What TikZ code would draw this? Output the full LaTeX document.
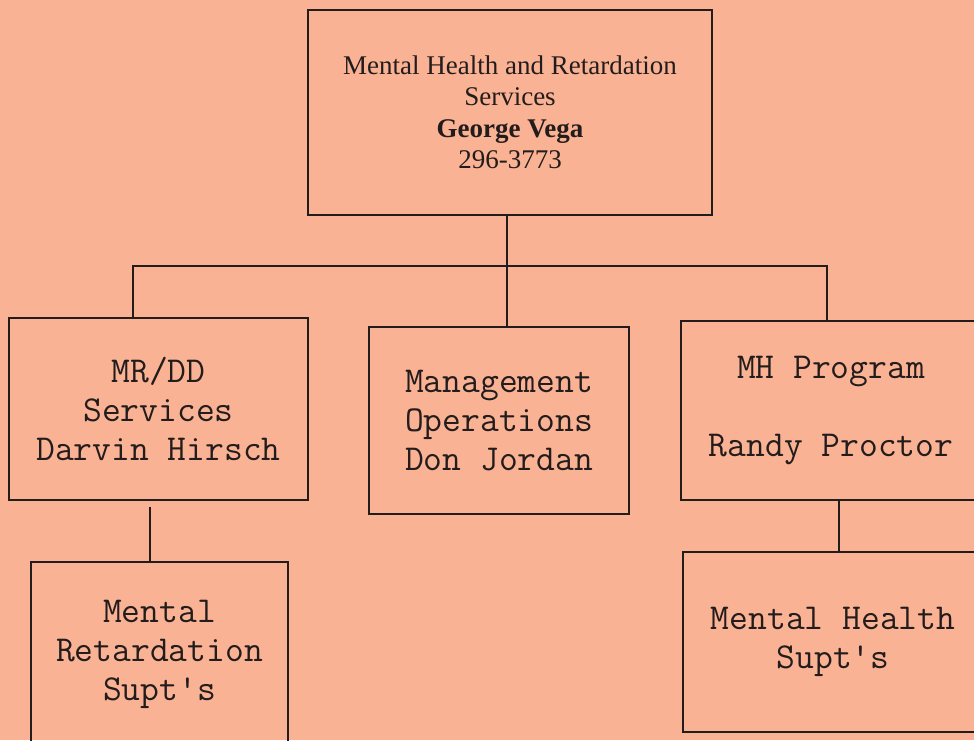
\documentclass[tikz,border=0pt]{standalone}
\usepackage{fontspec}
\setmainfont{Liberation Serif}
\definecolor{salmonpaper}{RGB}{250,178,148}
\definecolor{inkline}{RGB}{35,28,28}

\begin{document}
\begin{tikzpicture}[x=1pt,y=-1pt,
    unitbox/.style={draw=inkline, line width=2.8pt, text=inkline, align=center, inner sep=0pt},
    headbox/.style={unitbox, font=\fontsize{27}{31.5}\selectfont},
    monobox/.style={unitbox, font=\ttfamily\fontsize{36.5}{39}\selectfont},
    link/.style={draw=inkline, line width=2.6pt}]
    \fill[salmonpaper] (0,0) rectangle (974,740);
    \useasboundingbox (0,0) rectangle (974,740);
    \clip (0,0) rectangle (974,740);

    % top of the chart
    \node[headbox, minimum width=404pt, minimum height=205pt] (mhrs) at (510,112.5)
        {Mental Health and Retardation\\Services\\\textbf{George Vega}\\296-3773};

    % second row
    \node[monobox, minimum width=299pt, minimum height=182pt] (mrdd) at (158.5,409)
        {MR/DD\\Services\\Darvin Hirsch};
    \node[monobox, minimum width=260pt, minimum height=187pt] (mgmt) at (499,420.5)
        {Management\\Operations\\Don Jordan};
    \node[monobox, minimum width=300pt, minimum height=179pt] (mhprog) at (831,410.5)
        {MH Program\\\mbox{}\\Randy Proctor};

    % third row
    \node[monobox, minimum width=257pt, minimum height=184pt] (mrsupt) at (159.5,654)
        {Mental\\Retardation\\Supt's};
    \node[monobox, minimum width=300pt, minimum height=180pt] (mhsupt) at (833,642)
        {Mental Health\\Supt's};

    % connectors
    \coordinate (busL) at (133,266);
    \coordinate (busM) at (507,266);
    \coordinate (busR) at (827,266);
    \draw[link] (mhrs.south -| busM) -- (busM);
    \draw[link] (busL |- mrdd.north) -- (busL) -- (busR) -- (busR |- mhprog.north);
    \draw[link] (busM) -- (busM |- mgmt.north);

    \coordinate (mrtap) at (150,507);
    \draw[link] (mrtap) -- (mrtap |- mrsupt.north);
    \coordinate (mhtap) at (839,500);
    \draw[link] (mhtap |- mhprog.south) -- (mhtap |- mhsupt.north);
\end{tikzpicture}
\end{document}
